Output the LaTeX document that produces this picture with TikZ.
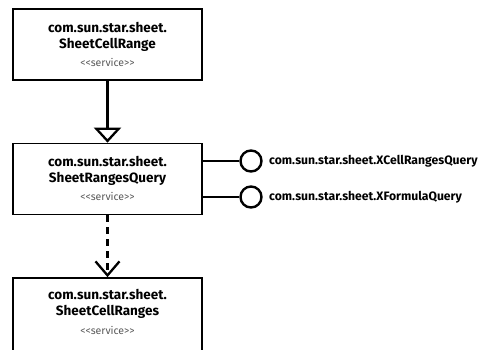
\documentclass[tikz,border=0pt]{standalone}
\usepackage{fontspec}
\setmainfont{Fira Sans}
\usetikzlibrary{arrows.meta}
\begin{document}
\begin{tikzpicture}[x=1pt,y=-1pt,
  box/.style={draw,line width=1.7pt,minimum width=189pt,minimum height=71pt,inner sep=0pt},
  title/.style={align=center,font=\fontsize{13.5}{16.5}\selectfont\bfseries},
  stereo/.style={font=\fontsize{10.5}{12}\selectfont,text=black!65},
  conn/.style={line width=2.3pt},
  lolli/.style={draw,circle,line width=2.4pt,minimum size=21pt,inner sep=0pt},
  iface/.style={anchor=west,font=\fontsize{12.2}{15}\selectfont\bfseries,inner sep=0pt}]
\useasboundingbox (0,0) rectangle (485,349);
\clip (0,0) rectangle (485,349);
% boxes
\node[box] (b1) at (107.5,44.5) {};
\node[box] (b2) at (107.5,179) {};
\node[box,minimum height=80pt] (b3) at (107.5,318) {};
% texts
\node[title] (t1) at (107.5,37) {com.sun.star.sheet.\\SheetCellRange};
\node[stereo] (s1) at (107.5,62) {<{}<service>{}>};
\node[title] (t2) at (107.5,171) {com.sun.star.sheet.\\SheetRangesQuery};
\node[stereo] (s2) at (107.5,196) {<{}<service>{}>};
\node[title] (t3) at (107.5,304) {com.sun.star.sheet.\\SheetCellRanges};
\node[stereo] (s3) at (107.5,330) {<{}<service>{}>};
% generalization
\draw[conn,-{Triangle[open,length=15pt,width=27pt,line width=2.3pt]}] (b1.south) -- (b2.north);
% dependency
\draw[conn,dash pattern=on 7pt off 5pt,-{Straight Barb[length=14pt,width=24pt,line width=2.3pt]}] (b2.south) -- (b3.north);
% lollipops
\node[lolli] (c1) at (251,161) {};
\node[lolli] (c2) at (251,197) {};
\draw[conn] (b2.east |- c1) -- (c1.west);
\draw[conn] (b2.east |- c2) -- (c2.west);
\node[iface] (i1) at (269,161) {com.sun.star.sheet.XCellRangesQuery};
\node[iface] (i2) at (269,197) {com.sun.star.sheet.XFormulaQuery};
\end{tikzpicture}
\end{document}
